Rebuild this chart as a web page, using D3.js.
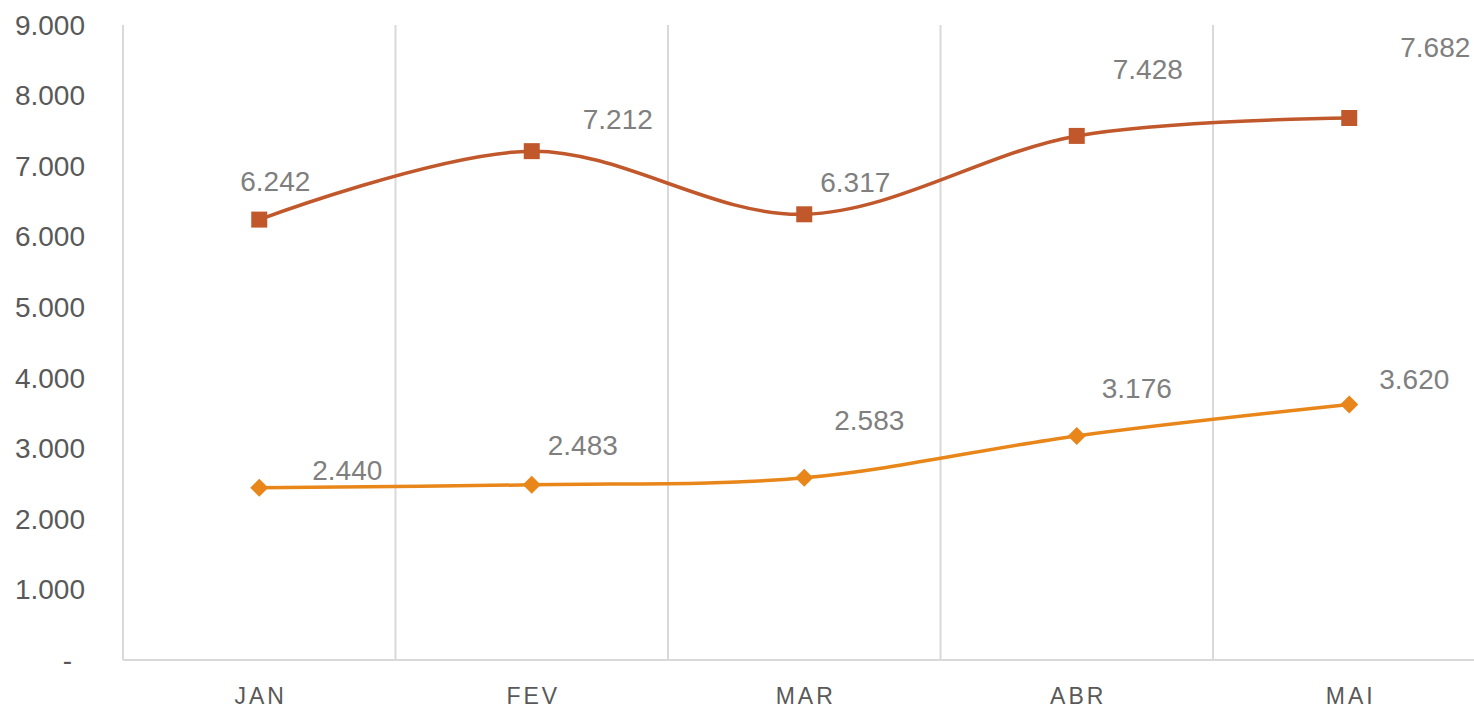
<!DOCTYPE html>
<meta charset="UTF-8">
<style>
  body { margin: 0; background: #fff; }
  text { font-family: "Liberation Sans", Arial, sans-serif; }
  .tick-y { font-size: 28px; fill: #595959; }
  .tick-x { font-size: 23px; fill: #595959; letter-spacing: 3px; }
  .lbl { font-size: 28px; fill: #7f7f7f; }
  .grid { stroke: #d9d9d9; stroke-width: 2px; }
</style>
<body>
<svg width="1474" height="708" id="chart"></svg>
<script src="https://d3js.org/d3.v7.min.js"></script>
<script>

// data
var months = ["JAN", "FEV", "MAR", "ABR", "MAI"];
var seriesTop = [6242, 7212, 6317, 7428, 7682];
var seriesBottom = [2440, 2483, 2583, 3176, 3620];
var yTicks = [0, 1000, 2000, 3000, 4000, 5000, 6000, 7000, 8000, 9000];

// label offsets (Excel labels were moved by hand)
var topLabelOffset = [[16, -38], [86, -32], [51, -32], [71, -67], [86, -71]];
var bottomLabelOffset = [[88, -18], [51, -40], [65, -58], [60, -48], [65, -25]];

var svg = d3.select("#chart");

var x = d3.scaleBand()
    .domain(months)
    .range([123, 123 + 272.5 * 5])
    .padding(0);

var y = d3.scaleLinear()
    .domain([0, 9000])
    .range([660, 25]);

var fmt = d3.formatLocale({decimal: ",", thousands: ".", grouping: [3], currency: ["", ""]}).format(",.0f");

// vertical gridlines at band edges
svg.append("g").selectAll("line")
  .data(months)
  .enter().append("line")
    .attr("class", "grid")
    .attr("x1", function(d) { return x(d); })
    .attr("x2", function(d) { return x(d); })
    .attr("y1", y(9000))
    .attr("y2", y(0));

// bottom axis line
svg.append("line")
    .attr("class", "grid")
    .attr("x1", x.range()[0])
    .attr("x2", 1474)
    .attr("y1", y(0))
    .attr("y2", y(0));

// y tick labels (accounting style: zero shown as a dash)
svg.append("g").selectAll("text")
  .data(yTicks)
  .enter().append("text")
    .attr("class", "tick-y")
    .attr("x", function(d) { return d === 0 ? 72 : 85; })
    .attr("y", function(d) { return y(d); })
    .attr("dy", "0.35em")
    .attr("text-anchor", "end")
    .text(function(d) { return d === 0 ? "-" : fmt(d); });

// x labels
svg.append("g").selectAll("text")
  .data(months)
  .enter().append("text")
    .attr("class", "tick-x")
    .attr("x", function(d) { return x(d) + x.bandwidth() / 2 + 1.5; })
    .attr("y", 704)
    .attr("text-anchor", "middle")
    .text(function(d) { return d; });

var line = d3.line()
    .x(function(d, i) { return x(months[i]) + x.bandwidth() / 2; })
    .y(function(d) { return y(d); })
    .curve(d3.curveCardinal.tension(0));

function drawSeries(values, color, shape, offsets) {
  var g = svg.append("g");
  g.append("path")
      .datum(values)
      .attr("fill", "none")
      .attr("stroke", color)
      .attr("stroke-width", 3.5)
      .attr("d", line);

  g.selectAll("path.mark")
    .data(values)
    .enter().append("path")
      .attr("class", "mark")
      .attr("fill", color)
      .attr("transform", function(d, i) {
        return "translate(" + (x(months[i]) + x.bandwidth() / 2) + "," + y(d) + ")";
      })
      .attr("d", shape);

  g.selectAll("text")
    .data(values)
    .enter().append("text")
      .attr("class", "lbl")
      .attr("text-anchor", "middle")
      .attr("dy", "0.35em")
      .attr("x", function(d, i) { return x(months[i]) + x.bandwidth() / 2 + offsets[i][0]; })
      .attr("y", function(d, i) { return y(d) + offsets[i][1]; })
      .text(function(d) { return fmt(d); });
}

drawSeries(seriesTop, "#c0582b", "M-8,-8H8V8H-8Z", topLabelOffset);
drawSeries(seriesBottom, "#e8861a", "M0,-9L9,0L0,9L-9,0Z", bottomLabelOffset);

</script>
</body>
